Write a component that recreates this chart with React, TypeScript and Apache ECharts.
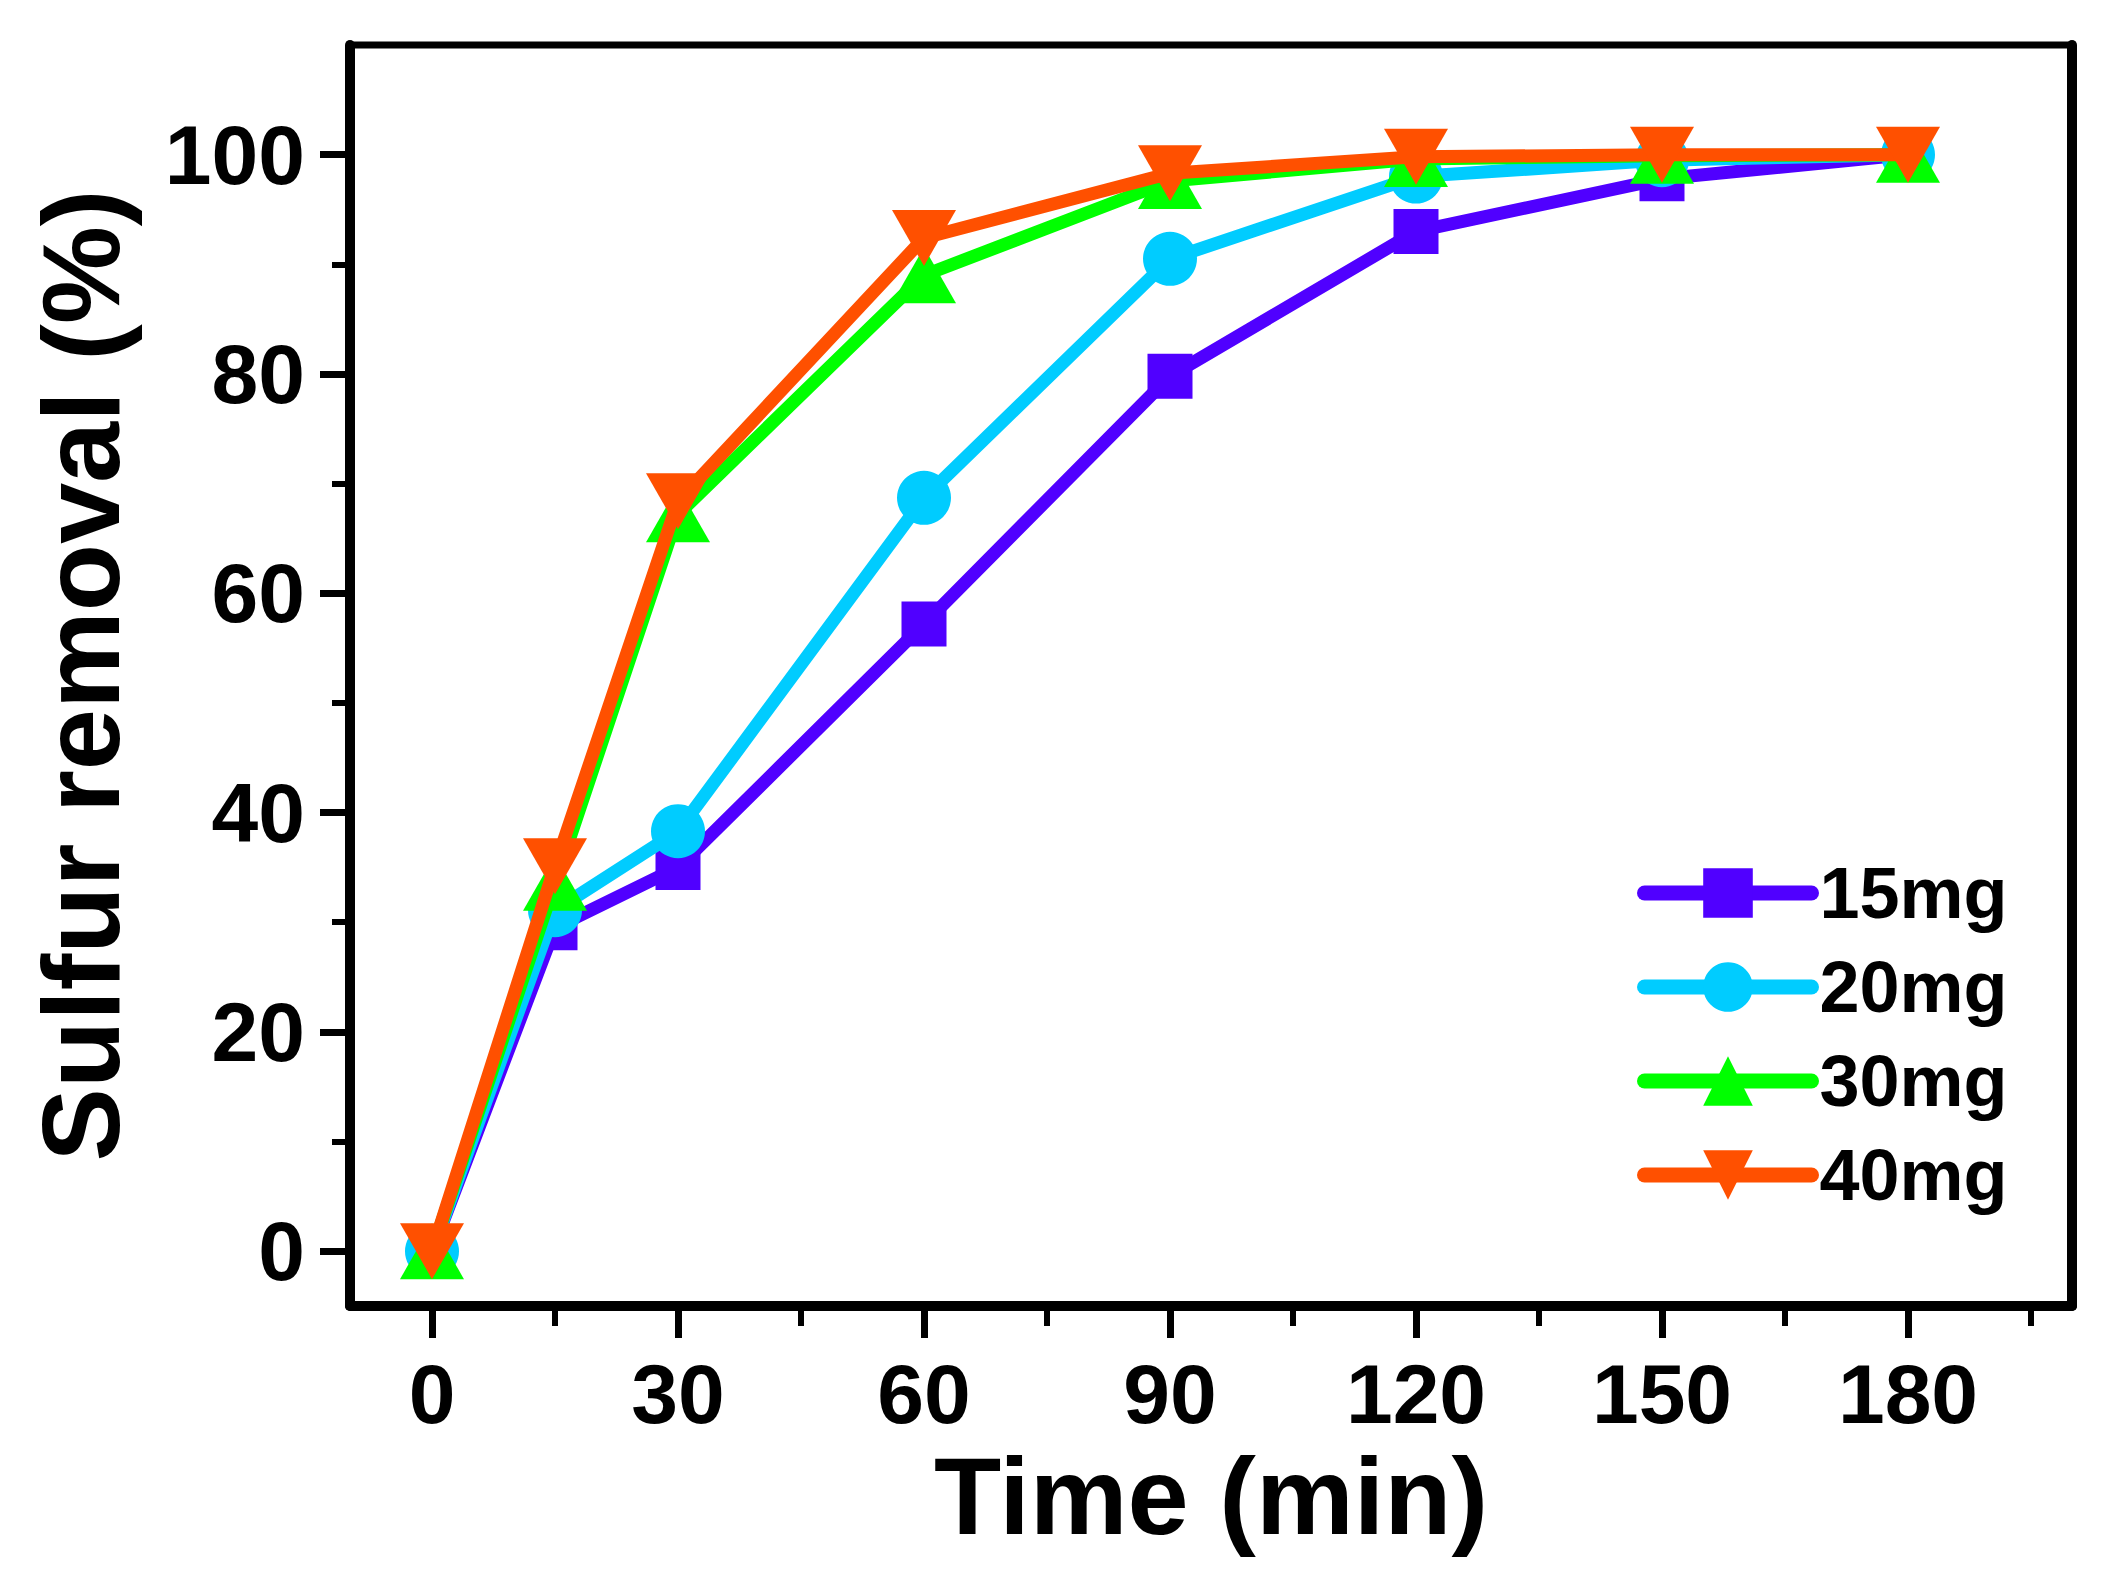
import React, { useEffect, useRef } from "react";
import * as echarts from "echarts";

const times = [0, 15, 30, 60, 90, 120, 150, 180];
const seriesNames = ["15mg", "20mg", "30mg", "40mg"];
const s15 = [0, 29.5, 35.0, 57.2, 79.8, 93.0, 97.8, 100];
const s20 = [0, 31.1, 38.3, 68.7, 90.5, 98.0, 99.5, 100];
const s30 = [0, 33.6, 67.2, 89.0, 97.6, 99.6, 99.9, 100];
const s40 = [0, 35.1, 68.4, 92.4, 98.3, 99.8, 100, 100];
const colors = ["#5000FF", "#00CCFF", "#00FF00", "#FF5000"];
const xMajorTicks = [0, 30, 60, 90, 120, 150, 180];
const xMinorTicks = [15, 45, 75, 105, 135, 165, 195];
const yMajorTicks = [0, 20, 40, 60, 80, 100];
const yMinorTicks = [10, 30, 50, 70, 90];

const FONT = "'Liberation Sans', Arial, sans-serif";

function tickAxis(kind: "x" | "y", values: number[], length: number, width: number) {
  const base: any = {
    type: "value",
    min: kind === "x" ? -10 : -5,
    max: kind === "x" ? 200 : 110,
    position: kind === "x" ? "bottom" : "left",
    axisLine: { show: false, onZero: false },
    axisTick: {
      show: true,
      inside: false,
      length,
      lineStyle: { color: "#000", width },
      customValues: values,
    },
    axisLabel: { show: false },
    splitLine: { show: false },
  };
  return base;
}

export default function App() {
  const ref = useRef<HTMLDivElement>(null);
  useEffect(() => {
    if (!ref.current) return;
    const chart = echarts.init(ref.current, null, { renderer: "svg" });
    const allSeries = [s15, s20, s30, s40];
    const symbols = ["rect", "circle", "triangle", "path://M0,0L10,0L5,10Z"];
    const sizes: any[] = [45, 54, [64, 56], [64, 56]];
    chart.setOption({
      animation: false,
      backgroundColor: "#ffffff",
      grid: {
        left: 350,
        right: 56,
        top: 45,
        bottom: 280,
        show: true,
        borderColor: "#000",
        borderWidth: 7,
        containLabel: false,
      },
      legend: {
        orient: "vertical",
        left: 1632,
        top: 852,
        itemWidth: 167,
        itemHeight: 62,
        itemGap: 22,
        data: seriesNames,
        textStyle: {
          fontFamily: FONT,
          fontWeight: "bold",
          fontSize: 72,
          color: "#000",
          padding: [0, 0, 0, 3],
        },
        lineStyle: { width: 15, cap: "round" },
      },
      xAxis: [
        {
          type: "value",
          min: -10,
          max: 200,
          name: "Time (min)",
          nameLocation: "middle",
          nameGap: 132,
          nameTextStyle: {
            fontFamily: FONT,
            fontWeight: "bold",
            fontSize: 110,
            color: "#000",
          },
          axisLine: { show: true, onZero: false, lineStyle: { color: "#000", width: 10 } },
          axisTick: { show: false },
          axisLabel: {
            show: true,
            margin: 46,
            fontFamily: FONT,
            fontWeight: "bold",
            fontSize: 84,
            color: "#000",
            customValues: xMajorTicks,
          },
          splitLine: { show: false },
        },
        tickAxis("x", xMajorTicks, 32, 7),
        tickAxis("x", xMinorTicks, 20, 6),
      ],
      yAxis: [
        {
          type: "value",
          min: -5,
          max: 110,
          position: "left",
          name: "Sulfur removal (%)",
          nameLocation: "middle",
          nameGap: 215,
          nameTextStyle: {
            fontFamily: FONT,
            fontWeight: "bold",
            fontSize: 110,
            color: "#000",
          },
          axisLine: { show: true, onZero: false, lineStyle: { color: "#000", width: 10 } },
          axisTick: { show: false },
          axisLabel: {
            show: true,
            margin: 45,
            fontFamily: FONT,
            fontWeight: "bold",
            fontSize: 84,
            color: "#000",
            customValues: yMajorTicks,
          },
          splitLine: { show: false },
        },
        tickAxis("y", yMajorTicks, 30, 7),
        tickAxis("y", yMinorTicks, 18, 6),
        {
          type: "value",
          min: -5,
          max: 110,
          position: "right",
          axisLine: { show: true, onZero: false, lineStyle: { color: "#000", width: 10 } },
          axisTick: { show: false },
          axisLabel: { show: false },
          splitLine: { show: false },
        },
      ],
      series: allSeries.map((vals, i) => ({
        name: seriesNames[i],
        type: "line",
        xAxisIndex: 0,
        yAxisIndex: 0,
        data: times.map((t, j) => [t, vals[j]]),
        symbol: symbols[i],
        symbolSize: sizes[i],
        showSymbol: true,
        color: colors[i],
        lineStyle: { color: colors[i], width: 13 },
        itemStyle: { color: colors[i] },
        z: 2 + i,
      })),
    });
    return () => chart.dispose();
  }, []);
  return (
    <div
      ref={ref}
      style={{ position: "fixed", left: 0, top: 0, width: 2128, height: 1586, background: "#fff" }}
    />
  );
}
